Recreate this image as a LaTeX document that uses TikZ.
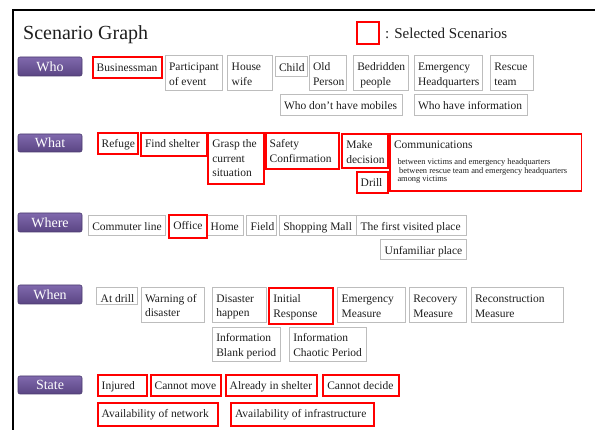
\documentclass[tikz,border=0pt]{standalone}
\usepackage{fontspec}
\setmainfont{Liberation Serif}
\usetikzlibrary{fit,calc,shadings}

\definecolor{selred}{HTML}{FF0000}
\definecolor{plainline}{HTML}{BDBDBD}
\definecolor{inktext}{HTML}{1E1E1E}
\definecolor{tagtop}{HTML}{8069AD}
\definecolor{tagbot}{HTML}{5A4583}
\definecolor{tagedge}{HTML}{4A3A6E}

\tikzset{
  cellframe/.style={inner sep=0pt, outer sep=0pt},
  plaincell/.style={cellframe, draw=plainline, line width=1pt},
  selcell/.style={cellframe, draw=selred, line width=1.8pt},
  celltext/.style={anchor=north west, inner sep=0pt, align=left, text=inktext,
    font=\fontsize{11.5}{14.5}\selectfont},
  subtext/.style={anchor=north west, inner sep=0pt, align=left, text=inktext,
    font=\fontsize{8.4}{8.5}\selectfont},
  tagbox/.style={inner sep=0pt, outer sep=0pt, rounded corners=2pt,
    top color=tagtop, bottom color=tagbot, draw=tagedge, line width=0.6pt},
  tagtext/.style={inner sep=0pt, text=white, font=\fontsize{14}{16}\selectfont},
}

% a scenario cell: style, name, x1, y1, x2, y2, text
\newcommand\scell[7]{%
  \coordinate (#2-a) at (#3,#4);
  \coordinate (#2-b) at (#5,#6);
  \node[#1, fit=(#2-a)(#2-b)] (#2) {};
  \node[celltext] (#2-t) at ($(#2-a)+(3.8,4.3)$) {\strut #7};
}
% a category tag: name, y1, y2, text
\newcommand\sgtag[4]{%
  \coordinate (#1-a) at (18,#2);
  \coordinate (#1-b) at (82,#3);
  \node[tagbox, fit=(#1-a)(#1-b)] (#1) {};
  \node[tagtext] (#1-t) at (#1.center) {#4};
}

\begin{document}
\begin{tikzpicture}[x=1pt, y={(0pt,-1pt)}]
\useasboundingbox (0,0) rectangle (595,430);

% outer frame (left and top edges)
\draw[line width=2pt] (13.3,440) -- (13.3,10) -- (600,10);

% heading and legend
\node[anchor=base west, inner sep=0pt, text=inktext, font=\fontsize{20}{24}\selectfont]
  (title) at (23,40) {Scenario Graph};
\coordinate (legend-a) at (356.7,22.3);
\coordinate (legend-b) at (379.3,44);
\node[selcell, fit=(legend-a)(legend-b)] (legendbox) {};
\node[anchor=base west, inner sep=0pt, text=inktext, font=\fontsize{15}{18}\selectfont]
  (legendtext) at (385,38.5) {: Selected Scenarios};

% category tags
\sgtag{who}{57}{76}{Who}
\sgtag{what}{134}{152}{What}
\sgtag{where}{213}{232}{Where}
\sgtag{when}{285}{304}{When}
\sgtag{state}{376}{394}{State}

% Who
\scell{plaincell}{participant}{165}{56}{222.7}{91}{Participant\\of event}
\scell{plaincell}{housewife}{227.7}{56}{272.3}{91}{House\\wife}
\scell{plaincell}{child}{275}{56.7}{307.3}{76.7}{Child}
\scell{plaincell}{oldperson}{309}{56}{346.7}{91}{Old\\Person}
\scell{plaincell}{bedridden}{353.3}{56}{408.3}{91}{Bedridden\\\hspace*{3pt}people}
\scell{plaincell}{emergencyhq}{414}{56}{482.7}{91}{Emergency\\Headquarters}
\scell{plaincell}{rescue}{490.3}{56}{533.7}{91}{Rescue\\team}
\scell{plaincell}{nomobiles}{280}{95}{402.3}{115.7}{Who don’t have mobiles}
\scell{plaincell}{haveinfo}{414}{95}{527.3}{116}{Who have information}
\scell{selcell}{businessman}{92.7}{56.7}{162.3}{77.7}{Businessman}

% What
\scell{selcell}{refuge}{97.7}{133.3}{138.3}{154.3}{Refuge}
\scell{selcell}{findshelter}{141}{133.3}{206.7}{155.7}{Find shelter}
\scell{selcell}{grasp}{208.3}{133.3}{264.3}{184}{Grasp the\\current\\situation}
\scell{selcell}{safety}{265.7}{133.3}{339.3}{169.3}{Safety\\Confirmation}
\scell{selcell}{makedecision}{342.3}{134}{388.3}{168.3}{Make\\decision}
\scell{selcell}{drill}{356.7}{172.3}{388.3}{193.3}{Drill}
\scell{selcell}{comms}{390}{134}{581.5}{191}{Communications}
\node[subtext] (comms-sub) at ($(comms-a)+(7.3,24.5)$)
  {\strut between victims and emergency headquarters\\
   \hspace*{1.7pt}between rescue team and emergency headquarters\\
   among victims};

% Where
\scell{plaincell}{commuter}{88.3}{215.7}{165.7}{236}{Commuter line}
\scell{plaincell}{home}{206.7}{215.7}{243.3}{236}{Home}
\scell{plaincell}{field}{246.7}{215.7}{276.7}{236}{Field}
\scell{plaincell}{mall}{279.3}{215.7}{356.7}{236}{Shopping Mall}
\scell{plaincell}{firstvisited}{356.7}{215.7}{466.7}{236}{The first visited place}
\scell{plaincell}{unfamiliar}{380.7}{240}{466.7}{260}{Unfamiliar place}
\scell{selcell}{office}{169.3}{215}{206.7}{237.7}{Office}

% When
\scell{plaincell}{atdrill}{96.7}{287.7}{137.7}{304.3}{At drill}
\scell{plaincell}{warning}{141}{287.7}{204}{322.7}{Warning of\\disaster}
\scell{plaincell}{disaster}{212.3}{287.7}{266}{322.7}{Disaster\\happen}
\scell{plaincell}{emergencym}{337.7}{288}{405.7}{322.7}{Emergency\\Measure}
\scell{plaincell}{recovery}{409.3}{288}{466.7}{322.7}{Recovery\\Measure}
\scell{plaincell}{reconstruction}{471}{288}{563.3}{322.7}{Reconstruction\\Measure}
\scell{plaincell}{blank}{212.3}{327.3}{280}{361.7}{Information\\Blank period}
\scell{plaincell}{chaotic}{289.3}{327.3}{366.7}{361.7}{Information\\Chaotic Period}
\scell{selcell}{initial}{269.3}{288.3}{332.7}{324}{Initial\\Response}

% State
\scell{selcell}{injured}{97.7}{375}{146.7}{396}{Injured}
\scell{selcell}{cannotmove}{150.7}{375}{221}{396}{Cannot move}
\scell{selcell}{alreadyshelter}{225.7}{375}{317.3}{396}{Already in shelter}
\scell{selcell}{cannotdecide}{323.3}{375}{399.3}{396}{Cannot decide}
\scell{selcell}{network}{97.7}{403.3}{218.3}{425.7}{Availability of network}
\scell{selcell}{infra}{231}{403.3}{374.3}{425.7}{Availability of infrastructure}
\end{tikzpicture}
\end{document}
